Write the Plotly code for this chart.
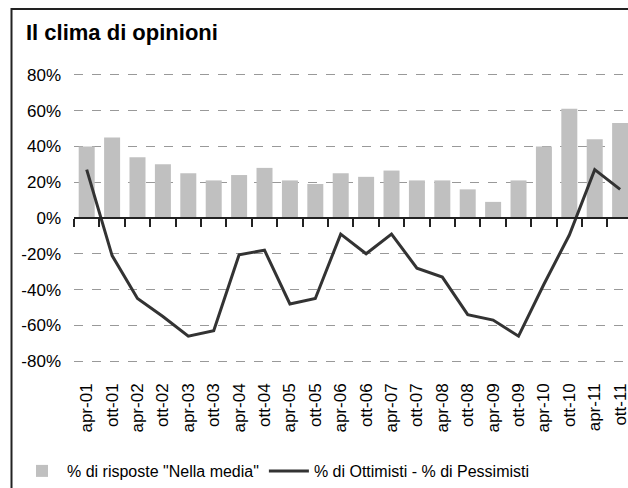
import plotly.graph_objects as go

periodi = ['apr-01', 'ott-01', 'apr-02', 'ott-02', 'apr-03', 'ott-03', 'apr-04', 'ott-04',
           'apr-05', 'ott-05', 'apr-06', 'ott-06', 'apr-07', 'ott-07', 'apr-08', 'ott-08',
           'apr-09', 'ott-09', 'apr-10', 'ott-10', 'apr-11', 'ott-11']
nella_media = [40, 45, 34, 30, 25, 21, 24, 28, 21, 19, 25, 23, 26.5, 21, 21, 16,
               9, 21, 40, 61, 44, 53]
saldo = [27, -21, -45, -55, -66, -63, -20.5, -18, -48, -45, -9, -20, -9, -28, -33, -54,
         -57, -66, -37, -9.5, 27, 16]
y_ticks = [-80, -60, -40, -20, 0, 20, 40, 60, 80]

FONT = 'Liberation Sans, Arial, sans-serif'
xs = list(range(len(periodi)))

# plot area: 0% at y=220, 80% at y=75 -> 181.25 px per unit
T, B = 73, 121
PH = 488 - T - B

fig = go.Figure()
fig.add_trace(go.Bar(x=xs, y=[v / 100 for v in nella_media], name='% di risposte "Nella media"',
                     marker=dict(color='#c0c0c0', line=dict(width=0)), width=0.63))
fig.add_trace(go.Scatter(x=xs, y=[v / 100 for v in saldo], name='% di Ottimisti - % di Pessimisti',
                         mode='lines', line=dict(color='#333333', width=3)))
# invisible trace so the axis at zero (x2) gets drawn
fig.add_trace(go.Scatter(x=[None], y=[None], xaxis='x2', showlegend=False, hoverinfo='skip'))

fig.update_layout(
    width=628, height=488,
    margin=dict(l=74, r=0, t=T, b=B),
    paper_bgcolor='white', plot_bgcolor='white',
    font=dict(family=FONT, size=17, color='black'),
    title=dict(text='<b>Il clima di opinioni</b>', x=26 / 628, xanchor='left', y=1 - 32 / 488,
               yanchor='middle', font=dict(size=22, family=FONT, color='black')),
    showlegend=True,
    legend=dict(orientation='h', x=(17 - 74) / 554, xanchor='left', y=(367 - 477) / PH,
                yanchor='middle', font=dict(size=16), itemwidth=40, traceorder='normal',
                bgcolor='rgba(0,0,0,0)'),
    xaxis=dict(range=[-0.5, 21.31], tickmode='array', tickvals=xs, ticktext=periodi,
               tickangle=-90, showgrid=False, zeroline=False, showline=False, ticks='',
               ticklabelstandoff=16, ticklabeloverflow='allow', automargin=False),
    xaxis2=dict(overlaying='x', anchor='free', position=0.5, range=[-0.5, 21.31],
                tickmode='array', tickvals=[i - 0.5 for i in range(len(periodi) + 1)],
                showticklabels=False, ticks='outside', ticklen=8, tickcolor='#222222',
                tickwidth=1.5, side='bottom', showline=True, linecolor='#222222', linewidth=1.5,
                showgrid=False, zeroline=False),
    yaxis=dict(range=[-0.81, 0.81], tickmode='array', tickvals=[v / 100 for v in y_ticks],
               ticktext=[f'{v}%' for v in y_ticks], showgrid=True, gridcolor='#999999',
               griddash='dash', gridwidth=1, zeroline=False, showline=False, ticks='',
               ticklabelstandoff=12, automargin=False),
)

# outer frame of the original chart (cropped on right and bottom)
fig.add_shape(type='rect', xref='paper', yref='paper', x0=(11.5 - 74) / 554, x1=1.2,
              y0=-1, y1=1 + (T - 8) / PH, line=dict(color='#222222', width=2),
              fillcolor='rgba(0,0,0,0)', layer='below')

fig.write_html("out.html", config={'displayModeBar': False},
               post_script="document.body.style.margin='0';")
